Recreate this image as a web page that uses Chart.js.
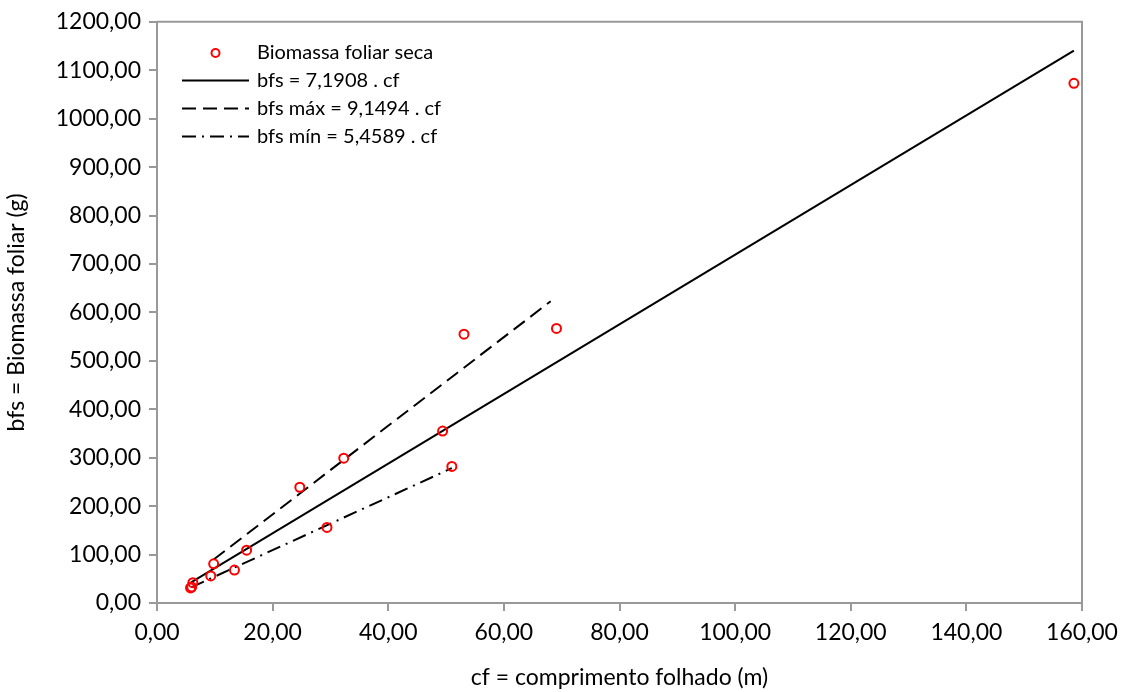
<!DOCTYPE html>
<html>
<head>
<meta charset="utf-8">
<script src="https://cdn.jsdelivr.net/npm/chart.js@4.4.1/dist/chart.umd.min.js"></script>
<style>
  html, body { margin: 0; padding: 0; background: #ffffff; }
  #wrap { width: 1127px; height: 692px; }
</style>
</head>
<body>
<div id="wrap"><canvas id="c" width="1127" height="692"></canvas></div>
<script>
// Measured samples: leaf length (m) and dry leaf biomass (g)
const cf  = [158.6, 69.1, 53.1, 49.4, 51.0, 32.3, 24.7, 29.4, 15.5, 9.8, 13.4, 9.3, 6.2, 6.0, 5.8];
const bfs = [1073, 567, 555, 355, 282, 299, 239, 156, 109, 81, 68, 56, 42, 33, 31];

// Fitted regression lines through the origin: bfs = coef . cf
const fitNames  = ['bfs = 7,1908 . cf', 'bfs máx = 9,1494 . cf', 'bfs mín = 5,4589 . cf'];
const fitCoef   = [7.1908, 9.1494, 5.4589];
const fitFrom   = [5.9, 9.8, 5.9];
const fitTo     = [158.6, 68.1, 51.0];
const fitDashes = [[], [14, 7], [14, 6, 2, 6]];

const seriesName = 'Biomassa foliar seca';
const xTitle = 'cf = comprimento folhado (m)';
const yTitle = 'bfs = Biomassa foliar (g)';

const FONT = 'Lato, "Open Sans", sans-serif';
const AXIS_GREY = '#999999';

const fmt = v => Number(v).toFixed(2).replace('.', ',');

const datasets = [];
fitCoef.forEach((k, i) => {
  datasets.push({
    type: 'line',
    label: fitNames[i],
    data: [{ x: fitFrom[i], y: k * fitFrom[i] }, { x: fitTo[i], y: k * fitTo[i] }],
    borderColor: '#000000',
    borderWidth: 2,
    borderDash: fitDashes[i],
    pointRadius: 0,
    fill: false,
    order: 2
  });
});
datasets.push({
  type: 'scatter',
  label: seriesName,
  data: cf.map((x, i) => ({ x: x, y: bfs[i] })),
  borderColor: '#ff0000',
  backgroundColor: 'rgba(255,255,255,0)',
  pointRadius: 4.5,
  pointBorderWidth: 2,
  pointHoverRadius: 4.5,
  order: 1
});

// Plot frame (top and right edges) drawn around the chart area
const framePlugin = {
  id: 'frame',
  afterDraw(chart) {
    const { ctx, chartArea: a } = chart;
    ctx.save();
    ctx.strokeStyle = AXIS_GREY;
    ctx.lineWidth = 2;
    ctx.beginPath();
    ctx.moveTo(a.left, a.top);
    ctx.lineTo(a.right, a.top);
    ctx.lineTo(a.right, a.bottom);
    ctx.stroke();
    ctx.restore();
  }
};

// Legend placed inside the plot, top-left
const legendPlugin = {
  id: 'innerLegend',
  afterDraw(chart) {
    const { ctx } = chart;
    const lx0 = 182, lx1 = 249, tx = 257;
    const rows = [53, 80.5, 108.5, 136.5];
    ctx.save();
    ctx.font = '20px ' + FONT;
    ctx.fillStyle = '#000000';
    ctx.textBaseline = 'middle';
    ctx.textAlign = 'left';
    const sc = chart.data.datasets[3];
    ctx.strokeStyle = sc.borderColor;
    ctx.lineWidth = 2;
    ctx.setLineDash([]);
    ctx.beginPath();
    ctx.arc((lx0 + lx1) / 2, rows[0], 4, 0, Math.PI * 2);
    ctx.stroke();
    ctx.fillText(sc.label, tx, rows[0]);
    for (let i = 0; i < 3; i++) {
      const ds = chart.data.datasets[i];
      ctx.strokeStyle = ds.borderColor;
      ctx.lineWidth = 2;
      ctx.setLineDash(ds.borderDash);
      ctx.beginPath();
      ctx.moveTo(lx0, rows[i + 1]);
      ctx.lineTo(lx1, rows[i + 1]);
      ctx.stroke();
      ctx.fillText(ds.label, tx, rows[i + 1]);
    }
    ctx.restore();
  }
};

new Chart(document.getElementById('c'), {
  data: { datasets: datasets },
  options: {
    responsive: false,
    animation: false,
    events: [],
    layout: { padding: { top: 21, right: 45, left: 0, bottom: 0 } },
    plugins: { legend: { display: false }, tooltip: { enabled: false } },
    scales: {
      x: {
        type: 'linear',
        min: 0, max: 160,
        afterFit(s) { s.height = 89; },
        grid: { display: true, drawOnChartArea: false, drawTicks: true, tickLength: 8, color: AXIS_GREY, lineWidth: 2 },
        border: { display: true, color: AXIS_GREY, width: 2 },
        ticks: { stepSize: 20, padding: 8, color: '#000000', font: { family: FONT, size: 23 }, callback: fmt, maxRotation: 0 },
        title: { display: true, text: xTitle, color: '#000000', font: { family: FONT, size: 23 }, padding: { top: 0, bottom: 1 } }
      },
      y: {
        type: 'linear',
        min: 0, max: 1200,
        afterFit(s) { s.width = 157; },
        grid: { display: true, drawOnChartArea: false, drawTicks: true, tickLength: 8, color: AXIS_GREY, lineWidth: 2 },
        border: { display: true, color: AXIS_GREY, width: 2 },
        ticks: { stepSize: 100, padding: 8, color: '#000000', font: { family: FONT, size: 23 }, callback: fmt },
        title: { display: true, text: yTitle, color: '#000000', font: { family: FONT, size: 23 }, padding: { top: 3, bottom: 0 } }
      }
    }
  },
  plugins: [framePlugin, legendPlugin]
});
</script>
</body>
</html>
